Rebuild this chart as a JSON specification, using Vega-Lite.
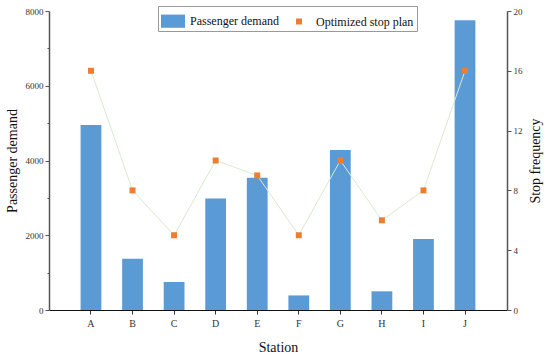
{
  "$schema": "https://vega.github.io/schema/vega-lite/v6.json",
  "width": 458,
  "height": 299,
  "autosize": {"type": "none"},
  "padding": {"left": 49, "top": 11, "right": 43, "bottom": 49},
  "background": "white",
  "config": {
    "view": {"stroke": null},
    "font": "Liberation Serif",
    "axis": {"labelFont": "Liberation Serif", "titleFont": "Liberation Serif", "titleFontWeight": "normal", "labelColor": "#333", "titleColor": "#111", "grid": false}
  },
  "data": {
    "values": [
      {"station": "A", "demand": 4950, "freq": 16},
      {"station": "B", "demand": 1370, "freq": 8},
      {"station": "C", "demand": 750, "freq": 5},
      {"station": "D", "demand": 2980, "freq": 10},
      {"station": "E", "demand": 3540, "freq": 9},
      {"station": "F", "demand": 390, "freq": 5},
      {"station": "G", "demand": 4280, "freq": 10},
      {"station": "H", "demand": 500, "freq": 6},
      {"station": "I", "demand": 1900, "freq": 8},
      {"station": "J", "demand": 7750, "freq": 16}
    ]
  },
  "encoding": {
    "x": {
      "field": "station", "type": "nominal", "sort": null,
      "scale": {"paddingInner": 0.5, "paddingOuter": 0.76},
      "axis": {"title": "Station", "labelAngle": 0, "labelFontSize": 10, "titleFontSize": 14, "domainColor": "#111", "domainWidth": 1.2, "tickColor": "#333", "tickSize": 4, "labelPadding": 4, "titlePadding": 12}
    }
  },
  "layer": [
    {
      "mark": {"type": "bar", "color": "#5B9BD5"},
      "encoding": {
        "y": {
          "field": "demand", "type": "quantitative",
          "scale": {"domain": [0, 8000], "nice": false},
          "axis": {"title": "Passenger demand", "values": [0, 1000, 2000, 3000, 4000, 5000, 6000, 7000, 8000], "labelExpr": "datum.value % 2000 === 0 ? datum.value : ''", "labelFontSize": 9, "titleFontSize": 14, "domainColor": "#555", "domainWidth": 1.5, "tickColor": "#555", "tickSize": {"condition": {"test": "datum.value % 2000 !== 0", "value": 2}, "value": 4}, "labelPadding": 2, "titlePadding": 6}
        },
        "color": {"datum": "Passenger demand", "type": "nominal",
          "scale": {"domain": ["Passenger demand", "Optimized stop plan"], "range": ["#5B9BD5", "#ED7D31"]},
          "legend": {
            "title": null, "orient": "none", "legendX": 109, "legendY": -5, "direction": "horizontal",
            "strokeColor": "#999", "padding": 3, "labelFontSize": 12, "labelFont": "Liberation Serif", "labelColor": "#111",
            "symbolSize": 576, "symbolStrokeWidth": 0, "columnPadding": 8, "labelOffset": 5,
            "encode": {"symbols": {"update": {"shape": {"signal": "datum.value === 'Passenger demand' ? 'M-1,-0.55H1V0.55H-1Z' : 'M-0.25,-0.25H0.25V0.25H-0.25Z'"}}}}
          }
        }
      }
    },
    {
      "layer": [
        {
          "mark": {"type": "line", "color": "#d8ead0", "strokeWidth": 1},
          "encoding": {
            "y": {"field": "freq", "type": "quantitative", "scale": {"domain": [0, 20], "nice": false},
              "axis": {"title": "Stop frequency", "orient": "right", "titleAngle": 270, "values": [0, 2, 4, 6, 8, 10, 12, 14, 16, 18, 20], "labelExpr": "datum.value % 4 === 0 ? datum.value : ''", "labelFontSize": 9, "titleFontSize": 14, "domainColor": "#555", "domainWidth": 1.5, "tickColor": "#555", "tickSize": {"condition": {"test": "datum.value % 4 !== 0", "value": 2}, "value": 4}, "labelPadding": 2, "titlePadding": 20}}
          }
        },
        {
          "mark": {"type": "point", "shape": "square", "filled": true, "size": 36, "opacity": 1},
          "encoding": {
            "y": {"field": "freq", "type": "quantitative"},
            "color": {"datum": "Optimized stop plan", "type": "nominal"}
          }
        }
      ]
    }
  ],
  "resolve": {"scale": {"y": "independent"}}
}
